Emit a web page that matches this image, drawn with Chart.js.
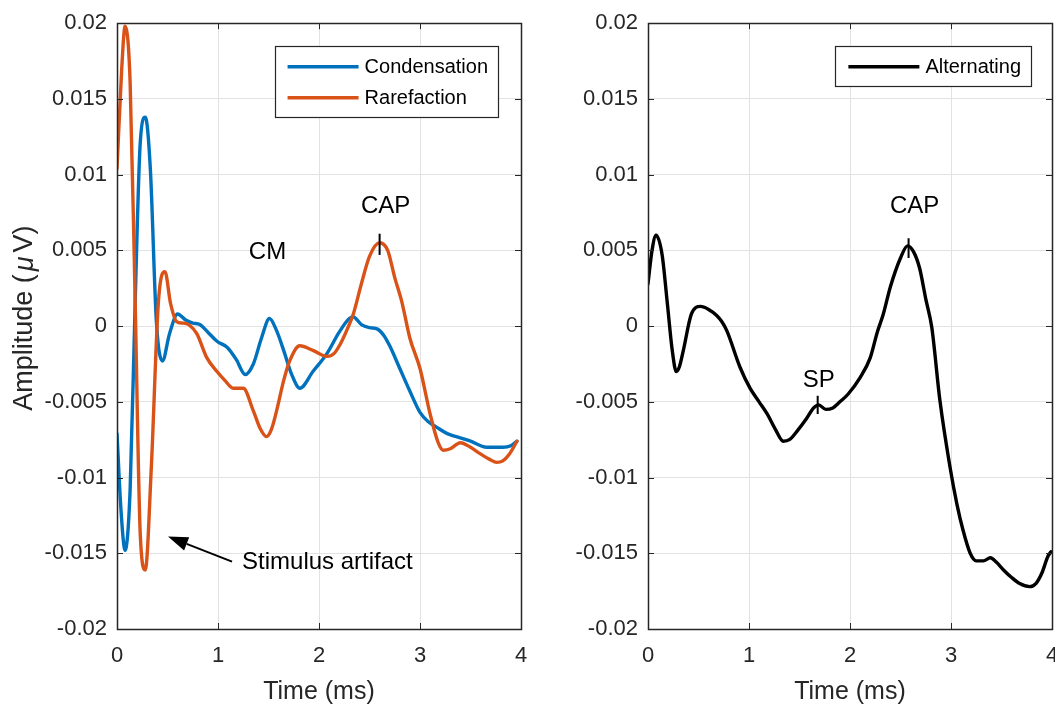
<!DOCTYPE html>
<html><head><meta charset="utf-8">
<script src="https://cdn.jsdelivr.net/npm/chart.js@4.4.0/dist/chart.umd.min.js"></script>
<style>
html,body{margin:0;padding:0;background:#fff;width:1055px;height:706px;overflow:hidden}
canvas{position:absolute;top:0}
#c1{left:0}
#c2{left:530px}
</style></head><body>
<canvas id="c1" width="530" height="706"></canvas>
<canvas id="c2" width="525" height="706"></canvas>
<script>
// ---------- data ----------
const xTickValues = [0, 1, 2, 3, 4];
const xTickLabels = ['0', '1', '2', '3', '4'];
const yTickValues = [-0.02, -0.015, -0.01, -0.005, 0, 0.005, 0.01, 0.015, 0.02];
const yTickLabels = ['-0.02', '-0.015', '-0.01', '-0.005', '0', '0.005', '0.01', '0.015', '0.02'];

const condensationT = [0,0.04,0.08,0.13,0.18,0.23,0.28,0.33,0.39,0.45,0.52,0.60,0.68,0.75,0.82,0.90,0.99,1.09,1.18,1.27,1.35,1.43,1.51,1.58,1.65,1.73,1.81,1.94,2.08,2.20,2.30,2.34,2.42,2.50,2.58,2.64,2.70,2.80,2.90,3.00,3.08,3.17,3.27,3.36,3.50,3.66,3.82,3.90,3.96];
const condensationV = [-0.0071,-0.0122,-0.0148,-0.0108,0.0016,0.0121,0.0138,0.0104,0.0003,-0.0023,-0.0005,0.0008,0.0004,0.0002,0.0001,-0.0004,-0.0010,-0.0014,-0.0022,-0.0032,-0.0025,-0.0008,0.0005,-0.0003,-0.0016,-0.0032,-0.0041,-0.0030,-0.0018,-0.0004,0.0005,0.0006,0.0001,-0.0001,-0.0002,-0.0006,-0.0013,-0.0028,-0.0043,-0.0057,-0.0063,-0.0067,-0.0071,-0.0073,-0.0076,-0.0080,-0.0080,-0.0079,-0.0076];

const rarefactionT = [0,0.046,0.08,0.13,0.18,0.23,0.28,0.34,0.41,0.475,0.53,0.59,0.65,0.71,0.79,0.89,0.99,1.07,1.15,1.25,1.35,1.42,1.48,1.53,1.58,1.65,1.71,1.81,1.94,2.08,2.15,2.21,2.28,2.34,2.42,2.50,2.60,2.68,2.75,2.82,2.90,3.00,3.10,3.18,3.23,3.30,3.40,3.50,3.59,3.69,3.76,3.82,3.88,3.96];
const rarefactionV = [0.0104,0.0169,0.0198,0.0161,0.0016,-0.0137,-0.0161,-0.0093,0.0016,0.0036,0.0015,0.0003,0.0002,0.0001,-0.0005,-0.0021,-0.0030,-0.0036,-0.0041,-0.0041,-0.0056,-0.0068,-0.0073,-0.0068,-0.0056,-0.0036,-0.0023,-0.0013,-0.0016,-0.0020,-0.0018,-0.0012,-0.0002,0.0008,0.0028,0.0046,0.0055,0.0050,0.0032,0.0016,-0.0008,-0.0028,-0.0058,-0.0077,-0.0082,-0.0081,-0.0077,-0.0080,-0.0084,-0.0088,-0.0090,-0.0089,-0.0085,-0.0076];

const alternatingT = [0,0.04,0.08,0.14,0.19,0.24,0.28,0.31,0.35,0.43,0.52,0.60,0.68,0.73,0.78,0.91,1.01,1.10,1.18,1.26,1.34,1.40,1.48,1.57,1.64,1.69,1.76,1.83,1.90,1.98,2.10,2.20,2.27,2.33,2.40,2.50,2.57,2.63,2.69,2.75,2.81,2.89,2.99,3.06,3.12,3.19,3.25,3.32,3.39,3.45,3.52,3.60,3.68,3.78,3.84,3.90,3.96,3.99];
const alternatingV = [0.0028,0.0050,0.0060,0.0047,0.0016,-0.0016,-0.0030,-0.0027,-0.0016,0.0008,0.0013,0.0011,0.0007,0.0003,-0.0003,-0.0027,-0.0041,-0.0050,-0.0058,-0.0068,-0.0076,-0.0075,-0.0069,-0.0061,-0.0054,-0.0052,-0.0055,-0.0054,-0.0050,-0.0045,-0.0034,-0.0021,-0.0004,0.0008,0.0026,0.0045,0.0053,0.0049,0.0038,0.0018,-0.0001,-0.0049,-0.0093,-0.0118,-0.0135,-0.0150,-0.0155,-0.0155,-0.0153,-0.0156,-0.0161,-0.0166,-0.0170,-0.0172,-0.0170,-0.0163,-0.0152,-0.0149];

// annotations (data coordinates)
const leftTexts = [
  {text: 'CM', x: 1.49, y: 0.00485, align: 'center'},
  {text: 'CAP', x: 2.66, y: 0.0079, align: 'center'},
  {text: 'Stimulus artifact', x: 1.238, y: -0.0156, align: 'left'}
];
const leftMarks = [{x: 2.60, y1: 0.0047, y2: 0.0061}];
const leftArrow = {fromX: 1.139, fromY: -0.01555, toX: 0.505, toY: -0.0139};

const rightTexts = [
  {text: 'CAP', x: 2.64, y: 0.0079, align: 'center'},
  {text: 'SP', x: 1.69, y: -0.0036, align: 'center'}
];
const rightMarks = [{x: 2.58, y1: 0.0045, y2: 0.0058}, {x: 1.68, y1: -0.0058, y2: -0.0046}];

// ---------- helpers ----------
const FONT = '"Liberation Sans", Arial, Helvetica, sans-serif';
const AX = '#262626';
const pts = (t, v) => t.map((x, i) => ({x, y: v[i]}));

const annotPlugin = {
  id: 'annot',
  afterDraw(chart, args, o) {
    const {ctx, chartArea: a, scales: {x, y}} = chart;
    ctx.save();
    // inward ticks
    ctx.strokeStyle = AX; ctx.lineWidth = 1;
    ctx.beginPath();
    xTickValues.forEach(v => {
      const px = Math.round(x.getPixelForValue(v)) + 0.5;
      ctx.moveTo(px, a.bottom); ctx.lineTo(px, a.bottom - 6);
      ctx.moveTo(px, a.top); ctx.lineTo(px, a.top + 6);
    });
    yTickValues.forEach(v => {
      const py = Math.round(y.getPixelForValue(v)) + 0.5;
      ctx.moveTo(a.left, py); ctx.lineTo(a.left + 6, py);
      ctx.moveTo(a.right, py); ctx.lineTo(a.right - 6, py);
    });
    ctx.stroke();
    // frame
    ctx.lineWidth = 1.5;
    ctx.strokeRect(Math.round(a.left) + 0.5, Math.round(a.top) + 0.5, Math.round(a.right - a.left), Math.round(a.bottom - a.top));

    // texts
    ctx.fillStyle = '#000';
    ctx.font = '24px ' + FONT;
    ctx.textBaseline = 'middle';
    (o.texts || []).forEach(t => {
      ctx.textAlign = t.align;
      ctx.fillText(t.text, x.getPixelForValue(t.x), y.getPixelForValue(t.y));
    });
    // marks
    ctx.strokeStyle = '#000'; ctx.lineWidth = 2;
    ctx.beginPath();
    (o.marks || []).forEach(m => {
      const px = x.getPixelForValue(m.x);
      ctx.moveTo(px, y.getPixelForValue(m.y1)); ctx.lineTo(px, y.getPixelForValue(m.y2));
    });
    ctx.stroke();
    // arrow
    if (o.arrow) {
      const ar = o.arrow;
      const x1 = x.getPixelForValue(ar.fromX), y1 = y.getPixelForValue(ar.fromY);
      const x2 = x.getPixelForValue(ar.toX), y2 = y.getPixelForValue(ar.toY);
      const ang = Math.atan2(y2 - y1, x2 - x1);
      const hl = 20, hw = 7;
      const bx = x2 - hl * Math.cos(ang), by = y2 - hl * Math.sin(ang);
      ctx.lineWidth = 2;
      ctx.beginPath(); ctx.moveTo(x1, y1); ctx.lineTo(bx, by); ctx.stroke();
      ctx.beginPath();
      ctx.moveTo(x2, y2);
      ctx.lineTo(bx + hw * Math.sin(ang), by - hw * Math.cos(ang));
      ctx.lineTo(bx - hw * Math.sin(ang), by + hw * Math.cos(ang));
      ctx.closePath(); ctx.fill();
    }
    // legend
    const ds = chart.data.datasets;
    ctx.font = '20px ' + FONT;
    const tw = Math.max(...ds.map(d => ctx.measureText(d.label).width));
    const bw = 13 + 71 + 6 + tw + 10;
    const bh = 9 + 31 * ds.length;
    const bx = a.right - o.legendRight - bw, by = a.top + 23;
    ctx.fillStyle = '#fff';
    ctx.fillRect(bx, by, bw, bh);
    ctx.strokeStyle = AX; ctx.lineWidth = 1.2;
    ctx.strokeRect(Math.round(bx) + 0.5, Math.round(by) + 0.5, Math.round(bw), Math.round(bh));
    ds.forEach((d, i) => {
      const cy = by + 20.5 + 31 * i;
      ctx.strokeStyle = d.borderColor; ctx.lineWidth = 3.5;
      ctx.beginPath(); ctx.moveTo(bx + 13, cy); ctx.lineTo(bx + 84, cy); ctx.stroke();
      ctx.fillStyle = '#000'; ctx.textAlign = 'left'; ctx.textBaseline = 'middle';
      ctx.fillText(d.label, bx + 90, cy + 1);
    });
    // y title
    if (o.yTitle) {
      ctx.save();
      ctx.translate(25, (a.top + a.bottom) / 2 - 8);
      ctx.rotate(-Math.PI / 2);
      ctx.fillStyle = AX; ctx.textBaseline = 'middle'; ctx.textAlign = 'left';
      const nf = '27px ' + FONT, itf = 'italic 27px ' + FONT;
      ctx.font = nf; const w1 = ctx.measureText('Amplitude (').width; const w3 = ctx.measureText('V)').width;
      ctx.font = itf; const w2 = ctx.measureText('\u03bc').width;
      const gapA = 3, gapB = 4;
      let sx = -(w1 + w2 + w3 + gapA + gapB) / 2;
      ctx.font = nf; ctx.fillText('Amplitude (', sx, 0); sx += w1 + gapA;
      ctx.font = itf; ctx.fillText('\u03bc', sx, 0); sx += w2 + gapB;
      ctx.font = nf; ctx.fillText('V)', sx, 0);
      ctx.restore();
    }
    // x title
    ctx.font = '25px ' + FONT; ctx.fillStyle = AX; ctx.textAlign = 'center'; ctx.textBaseline = 'middle';
    ctx.fillText('Time (ms)', (a.left + a.right) / 2, a.bottom + 63);
    ctx.restore();
  }
};

function makeOptions(yAxisWidth, padRight, annot) {
  return {
    responsive: false,
    animation: false,
    layout: {padding: {left: 0, top: 20, right: padRight, bottom: 0}},
    plugins: {legend: {display: false}, tooltip: {enabled: false}, annot},
    elements: {point: {radius: 0}, line: {borderWidth: 3.4, cubicInterpolationMode: 'monotone', borderJoinStyle: 'round', borderCapStyle: 'round'}},
    scales: {
      x: {
        type: 'linear', min: 0, max: 4,
        afterBuildTicks: s => { s.ticks = xTickValues.map(v => ({value: v})); },
        afterFit: s => { s.height = 77; s.paddingLeft = 0; s.paddingRight = 0; },
        ticks: {callback: (v, i) => xTickLabels[i], color: AX, font: {family: FONT, size: 22}, padding: 14, maxRotation: 0},
        grid: {color: '#e2e2e2', lineWidth: 1, drawTicks: false},
        border: {display: false}
      },
      y: {
        type: 'linear', min: -0.02, max: 0.02,
        afterBuildTicks: s => { s.ticks = yTickValues.map(v => ({value: v})); },
        afterFit: s => { s.width = yAxisWidth; },
        ticks: {callback: (v, i) => yTickLabels[i], color: AX, font: {family: FONT, size: 22}, padding: 10},
        grid: {color: '#e2e2e2', lineWidth: 1, drawTicks: false},
        border: {display: false}
      }
    }
  };
}

new Chart(document.getElementById('c1'), {
  type: 'line',
  data: {datasets: [
    {label: 'Condensation', data: pts(condensationT, condensationV), borderColor: '#0072BD', order: 2},
    {label: 'Rarefaction', data: pts(rarefactionT, rarefactionV), borderColor: '#D95319', order: 1}
  ]},
  options: makeOptions(117, 9, {texts: leftTexts, marks: leftMarks, arrow: leftArrow, legendRight: 23, yTitle: true})
  ,plugins: [annotPlugin]
});

new Chart(document.getElementById('c2'), {
  type: 'line',
  data: {datasets: [
    {label: 'Alternating', data: pts(alternatingT, alternatingV), borderColor: '#000000'}
  ]},
  options: makeOptions(118, 3, {texts: rightTexts, marks: rightMarks, legendRight: 21, yTitle: false})
  ,plugins: [annotPlugin]
});
</script>
</body></html>
